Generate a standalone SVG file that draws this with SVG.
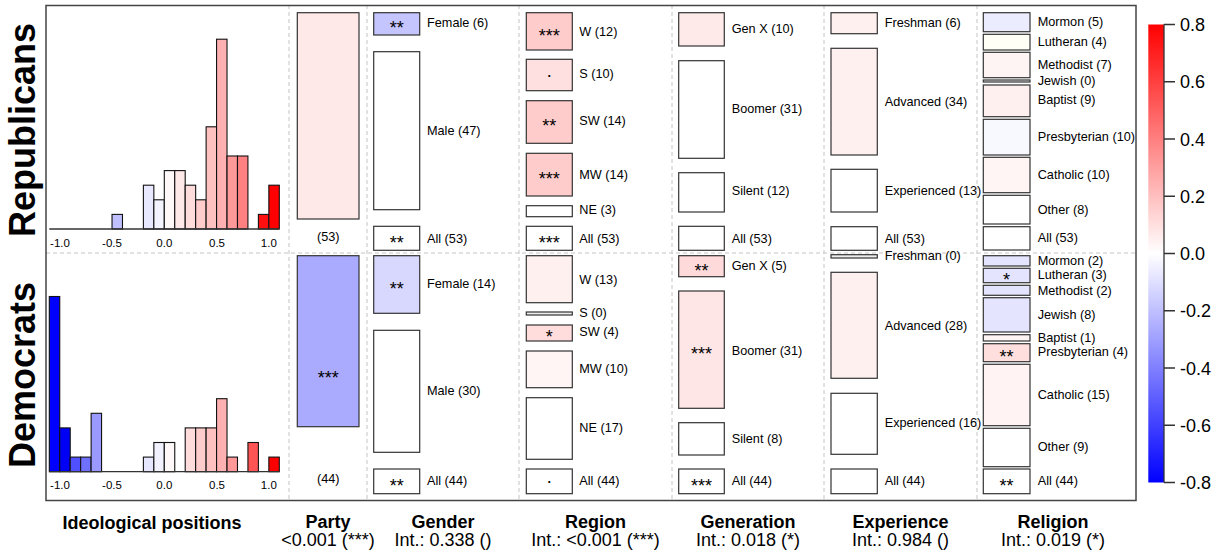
<svg xmlns="http://www.w3.org/2000/svg" width="1231" height="557" viewBox="0 0 1231 557">
<defs>
<linearGradient id="cbar" x1="0" y1="0" x2="0" y2="1">
<stop offset="0" stop-color="#ff0000"/>
<stop offset="0.5" stop-color="#ffffff"/>
<stop offset="1" stop-color="#0000ff"/>
</linearGradient>
<style>
text{font-family:"Liberation Sans",Arial,sans-serif;fill:#000}
.bar{stroke:#111;stroke-width:1.1}
.box{stroke:#333;stroke-width:1.2}
.lbl{font-size:12.7px}
.st{font-size:18px;text-anchor:middle}
.tick{font-size:11.5px;text-anchor:middle}
.dash{stroke:#c4c4c4;stroke-width:1;stroke-dasharray:4,3;fill:none}
.head{font-size:18px;font-weight:bold;text-anchor:middle}
.sub{font-size:18px;text-anchor:middle}
.side{font-size:36px;font-weight:bold;text-anchor:middle}
.cb{font-size:18px}
.ax{stroke:#333;stroke-width:1.3;fill:none}
</style>
</defs>
<rect width="1231" height="557" fill="#fff"/>

<g id="grid">
<line class="dash" x1="46" y1="253" x2="1136" y2="253"/>
<line class="dash" x1="289" y1="5" x2="289" y2="500"/>
<line class="dash" x1="367" y1="5" x2="367" y2="500"/>
<line class="dash" x1="519" y1="5" x2="519" y2="500"/>
<line class="dash" x1="672" y1="5" x2="672" y2="500"/>
<line class="dash" x1="824" y1="5" x2="824" y2="500"/>
<line class="dash" x1="977" y1="5" x2="977" y2="500"/>
</g>
<g id="connectors"/>

<g id="side-labels">
<text class="side" transform="translate(35,130) rotate(-90)">Republicans</text>
<text class="side" transform="translate(35,375) rotate(-90)">Democrats</text>
</g>

<g id="hist-rep">
<rect class="bar" x="112.03" y="214.4" width="10.45" height="14.6" fill="#c0c0ff"/>
<rect class="bar" x="143.39" y="185.2" width="10.45" height="43.8" fill="#e8e8ff"/>
<rect class="bar" x="153.85" y="199.8" width="10.45" height="29.2" fill="#f4f4ff"/>
<rect class="bar" x="164.30" y="170.6" width="10.45" height="58.4" fill="#fff8f8"/>
<rect class="bar" x="174.75" y="170.6" width="10.45" height="58.4" fill="#ffe8e8"/>
<rect class="bar" x="185.21" y="185.2" width="10.45" height="43.8" fill="#ffdcdc"/>
<rect class="bar" x="195.66" y="199.8" width="10.45" height="29.2" fill="#ffcccc"/>
<rect class="bar" x="206.12" y="126.8" width="10.45" height="102.2" fill="#ffc0c0"/>
<rect class="bar" x="216.57" y="39.2" width="10.45" height="189.8" fill="#ffb0b0"/>
<rect class="bar" x="227.03" y="156" width="10.45" height="73" fill="#ff9999"/>
<rect class="bar" x="237.48" y="156" width="10.45" height="73" fill="#ff8080"/>
<rect class="bar" x="258.39" y="214.4" width="10.45" height="14.6" fill="#ff1010"/>
<rect class="bar" x="268.85" y="185.2" width="10.45" height="43.8" fill="#ff0000"/>
<line class="ax" x1="49.3" y1="229" x2="279.3" y2="229"/>
<text class="tick" x="60" y="247.3">-1.0</text>
<text class="tick" x="112" y="247.3">-0.5</text>
<text class="tick" x="164.3" y="247.3">0.0</text>
<text class="tick" x="217" y="247.3">0.5</text>
<text class="tick" x="268.8" y="247.3">1.0</text>
</g>

<g id="hist-dem">
<rect class="bar" x="49.30" y="296.5" width="10.45" height="175.2" fill="#0000ff"/>
<rect class="bar" x="59.75" y="427.9" width="10.45" height="43.8" fill="#0000f4"/>
<rect class="bar" x="70.21" y="457.1" width="10.45" height="14.6" fill="#5050ff"/>
<rect class="bar" x="80.66" y="457.1" width="10.45" height="14.6" fill="#7070ff"/>
<rect class="bar" x="91.12" y="413.3" width="10.45" height="58.4" fill="#9999ff"/>
<rect class="bar" x="143.39" y="457.1" width="10.45" height="14.6" fill="#e6e6ff"/>
<rect class="bar" x="153.85" y="442.5" width="10.45" height="29.2" fill="#f2f2ff"/>
<rect class="bar" x="164.30" y="442.5" width="10.45" height="29.2" fill="#fff8f8"/>
<rect class="bar" x="185.21" y="427.9" width="10.45" height="43.8" fill="#ffdcdc"/>
<rect class="bar" x="195.66" y="427.9" width="10.45" height="43.8" fill="#ffcccc"/>
<rect class="bar" x="206.12" y="427.9" width="10.45" height="43.8" fill="#ffc0c0"/>
<rect class="bar" x="216.57" y="398.7" width="10.45" height="73" fill="#ffb0b0"/>
<rect class="bar" x="227.03" y="457.1" width="10.45" height="14.6" fill="#ff9999"/>
<rect class="bar" x="247.94" y="442.5" width="10.45" height="29.2" fill="#ff5555"/>
<rect class="bar" x="268.85" y="457.1" width="10.45" height="14.6" fill="#ff0000"/>
<line class="ax" x1="49.3" y1="471.7" x2="279.3" y2="471.7"/>
<text class="tick" x="60" y="489.3">-1.0</text>
<text class="tick" x="112" y="489.3">-0.5</text>
<text class="tick" x="164.3" y="489.3">0.0</text>
<text class="tick" x="217" y="489.3">0.5</text>
<text class="tick" x="268.8" y="489.3">1.0</text>
</g>

<g id="party-rep">
<rect class="box" x="297.3" y="12.7" width="61.7" height="206.3" fill="#ffe8e8"/>
<text class="lbl" x="328.2" y="241.2" text-anchor="middle">(53)</text>
</g>
<g id="party-dem">
<rect class="box" x="297.3" y="255.7" width="61.7" height="171" fill="#aaaaff"/>
<text class="st" x="328.2" y="384.3">***</text>
<text class="lbl" x="328.2" y="482.5" text-anchor="middle">(44)</text>
</g>

<g id="gender-rep-female"><rect class="box" x="373.7" y="12.7" width="46" height="22.3" fill="#c4c4ff"/><text class="st" x="396.7" y="34.1">**</text><text class="lbl" x="427" y="27.2">Female (6)</text></g>
<g id="gender-rep-male"><rect class="box" x="373.7" y="51.7" width="46" height="158" fill="#fff"/><text class="lbl" x="427" y="134.5">Male (47)</text></g>
<g id="gender-rep-all"><rect class="box" x="373.7" y="226.3" width="46" height="24" fill="#fff"/><text class="st" x="396.7" y="248.6">**</text><text class="lbl" x="427" y="242.8">All (53)</text></g>
<g id="gender-dem-female"><rect class="box" x="373.7" y="255.7" width="46" height="57.6" fill="#d8d8ff"/><text class="st" x="396.7" y="294.8">**</text><text class="lbl" x="427" y="288.2">Female (14)</text></g>
<g id="gender-dem-male"><rect class="box" x="373.7" y="330.3" width="46" height="122" fill="#fff"/><text class="lbl" x="427" y="395.2">Male (30)</text></g>
<g id="gender-dem-all"><rect class="box" x="373.7" y="469" width="46" height="24.7" fill="#fff"/><text class="st" x="396.7" y="491.6">**</text><text class="lbl" x="427" y="485">All (44)</text></g>

<g id="region-rep-w"><rect class="box" x="526.3" y="12.7" width="46" height="37.3" fill="#ffcccc"/><text class="st" x="549.3" y="41.6">***</text><text class="lbl" x="579.3" y="35.5">W (12)</text></g>
<g id="region-rep-s"><rect class="box" x="526.3" y="59.3" width="46" height="31.4" fill="#ffe0e0"/><text class="st" x="549.3" y="77">.</text><text class="lbl" x="579.3" y="77.8">S (10)</text></g>
<g id="region-rep-sw"><rect class="box" x="526.3" y="100.7" width="46" height="42.6" fill="#ffcccc"/><text class="st" x="549.3" y="132.3">**</text><text class="lbl" x="579.3" y="125.2">SW (14)</text></g>
<g id="region-rep-mw"><rect class="box" x="526.3" y="153.3" width="46" height="42.7" fill="#ffcccc"/><text class="st" x="549.3" y="185">***</text><text class="lbl" x="579.3" y="178.5">MW (14)</text></g>
<g id="region-rep-ne"><rect class="box" x="526.3" y="205.7" width="46" height="11" fill="#fff"/><text class="lbl" x="579.3" y="213.8">NE (3)</text></g>
<g id="region-rep-all"><rect class="box" x="526.3" y="226.3" width="46" height="24" fill="#fff"/><text class="st" x="549.3" y="248.6">***</text><text class="lbl" x="579.3" y="242.8">All (53)</text></g>
<g id="region-dem-w"><rect class="box" x="526.3" y="255.7" width="46" height="47" fill="#fff0f0"/><text class="lbl" x="579.3" y="283.5">W (13)</text></g>
<g id="region-dem-s"><rect class="box" x="526.3" y="312" width="46" height="3" fill="#eee"/><text class="lbl" x="579.3" y="316.8">S (0)</text></g>
<g id="region-dem-sw"><rect class="box" x="526.3" y="325" width="46" height="16" fill="#ffdddd"/><text class="st" x="549.3" y="343.3">*</text><text class="lbl" x="579.3" y="335.8">SW (4)</text></g>
<g id="region-dem-mw"><rect class="box" x="526.3" y="351" width="46" height="36.7" fill="#fff5f5"/><text class="lbl" x="579.3" y="372.8">MW (10)</text></g>
<g id="region-dem-ne"><rect class="box" x="526.3" y="397.7" width="46" height="61.6" fill="#fff"/><text class="lbl" x="579.3" y="432.2">NE (17)</text></g>
<g id="region-dem-all"><rect class="box" x="526.3" y="469" width="46" height="24.7" fill="#fff"/><text class="st" x="549.3" y="483.3">.</text><text class="lbl" x="579.3" y="485">All (44)</text></g>

<g id="gen-rep-genx"><rect class="box" x="678.7" y="12.7" width="45.6" height="33.3" fill="#ffeaea"/><text class="lbl" x="731.7" y="32.8">Gen X (10)</text></g>
<g id="gen-rep-boomer"><rect class="box" x="678.7" y="60.7" width="45.6" height="97.6" fill="#fff"/><text class="lbl" x="731.7" y="112.5">Boomer (31)</text></g>
<g id="gen-rep-silent"><rect class="box" x="678.7" y="172.7" width="45.6" height="39.3" fill="#fff"/><text class="lbl" x="731.7" y="195.2">Silent (12)</text></g>
<g id="gen-rep-all"><rect class="box" x="678.7" y="226.3" width="45.6" height="24" fill="#fff"/><text class="lbl" x="731.7" y="242.8">All (53)</text></g>
<g id="gen-dem-genx"><rect class="box" x="678.7" y="255.7" width="45.6" height="21" fill="#ffdada"/><text class="st" x="701.5" y="276.5">**</text><text class="lbl" x="731.7" y="270.2">Gen X (5)</text></g>
<g id="gen-dem-boomer"><rect class="box" x="678.7" y="291" width="45.6" height="117.3" fill="#ffe6e6"/><text class="st" x="701.5" y="360">***</text><text class="lbl" x="731.7" y="354.5">Boomer (31)</text></g>
<g id="gen-dem-silent"><rect class="box" x="678.7" y="422.7" width="45.6" height="32.3" fill="#fff"/><text class="lbl" x="731.7" y="442.8">Silent (8)</text></g>
<g id="gen-dem-all"><rect class="box" x="678.7" y="469" width="45.6" height="24.7" fill="#fff"/><text class="st" x="701.5" y="491.6">***</text><text class="lbl" x="731.7" y="485">All (44)</text></g>

<g id="exp-rep-freshman"><rect class="box" x="831" y="12.7" width="46.3" height="21" fill="#fff0f0"/><text class="lbl" x="884.7" y="26.8">Freshman (6)</text></g>
<g id="exp-rep-advanced"><rect class="box" x="831" y="48.3" width="46.3" height="106.7" fill="#fff0f0"/><text class="lbl" x="884.7" y="105.5">Advanced (34)</text></g>
<g id="exp-rep-experienced"><rect class="box" x="831" y="169.3" width="46.3" height="42.7" fill="#fff"/><text class="lbl" x="884.7" y="194.5">Experienced (13)</text></g>
<g id="exp-rep-all"><rect class="box" x="831" y="226.7" width="46.3" height="23.6" fill="#fff"/><text class="lbl" x="884.7" y="242.8">All (53)</text></g>
<g id="exp-dem-freshman"><rect class="box" x="831" y="254.7" width="46.3" height="3.3" fill="#eee"/><text class="lbl" x="884.7" y="260.2">Freshman (0)</text></g>
<g id="exp-dem-advanced"><rect class="box" x="831" y="272.3" width="46.3" height="106" fill="#fff0f0"/><text class="lbl" x="884.7" y="329.5">Advanced (28)</text></g>
<g id="exp-dem-experienced"><rect class="box" x="831" y="393.3" width="46.3" height="61" fill="#fff"/><text class="lbl" x="884.7" y="427.2">Experienced (16)</text></g>
<g id="exp-dem-all"><rect class="box" x="831" y="469" width="46.3" height="24.7" fill="#fff"/><text class="lbl" x="884.7" y="485">All (44)</text></g>

<g id="rel-rep-mormon"><rect class="box" x="983.3" y="12.7" width="46.7" height="19" fill="#ececff"/><text class="lbl" x="1037.7" y="26.2">Mormon (5)</text></g>
<g id="rel-rep-lutheran"><rect class="box" x="983.3" y="34.3" width="46.7" height="15.7" fill="#fffff6"/><text class="lbl" x="1037.7" y="46.2">Lutheran (4)</text></g>
<g id="rel-rep-methodist"><rect class="box" x="983.3" y="52.3" width="46.7" height="25.4" fill="#fff4f4"/><text class="lbl" x="1037.7" y="68.5">Methodist (7)</text></g>
<g id="rel-rep-jewish"><rect class="box" x="983.3" y="80" width="46.7" height="2" fill="#eee"/><text class="lbl" x="1037.7" y="85.2">Jewish (0)</text></g>
<g id="rel-rep-baptist"><rect class="box" x="983.3" y="85" width="46.7" height="31.7" fill="#fff0f0"/><text class="lbl" x="1037.7" y="103.5">Baptist (9)</text></g>
<g id="rel-rep-presbyterian"><rect class="box" x="983.3" y="119.3" width="46.7" height="35.7" fill="#f8f8ff"/><text class="lbl" x="1037.7" y="140.5">Presbyterian (10)</text></g>
<g id="rel-rep-catholic"><rect class="box" x="983.3" y="157.3" width="46.7" height="35.4" fill="#fff5f5"/><text class="lbl" x="1037.7" y="178.5">Catholic (10)</text></g>
<g id="rel-rep-other"><rect class="box" x="983.3" y="195.3" width="46.7" height="28.7" fill="#fff"/><text class="lbl" x="1037.7" y="213.5">Other (8)</text></g>
<g id="rel-rep-all"><rect class="box" x="983.3" y="226.7" width="46.7" height="23.3" fill="#fff"/><text class="lbl" x="1037.7" y="242.2">All (53)</text></g>
<g id="rel-dem-mormon"><rect class="box" x="983.3" y="255.7" width="46.7" height="10.3" fill="#e4e4ff"/><text class="lbl" x="1037.7" y="264.5">Mormon (2)</text></g>
<g id="rel-dem-lutheran"><rect class="box" x="983.3" y="268.3" width="46.7" height="14.4" fill="#e4e4ff"/><text class="st" x="1006.6" y="285.8">*</text><text class="lbl" x="1037.7" y="278.8">Lutheran (3)</text></g>
<g id="rel-dem-methodist"><rect class="box" x="983.3" y="285.3" width="46.7" height="10" fill="#e4e4ff"/><text class="lbl" x="1037.7" y="294.5">Methodist (2)</text></g>
<g id="rel-dem-jewish"><rect class="box" x="983.3" y="297.7" width="46.7" height="34.3" fill="#e4e4ff"/><text class="lbl" x="1037.7" y="318.5">Jewish (8)</text></g>
<g id="rel-dem-baptist"><rect class="box" x="983.3" y="334.7" width="46.7" height="6.3" fill="#fff4f4"/><text class="lbl" x="1037.7" y="341.8">Baptist (1)</text></g>
<g id="rel-dem-presbyterian"><rect class="box" x="983.3" y="343.7" width="46.7" height="18" fill="#ffdede"/><text class="st" x="1006.6" y="363">**</text><text class="lbl" x="1037.7" y="356.2">Presbyterian (4)</text></g>
<g id="rel-dem-catholic"><rect class="box" x="983.3" y="364.3" width="46.7" height="61.4" fill="#fff3f3"/><text class="lbl" x="1037.7" y="398.5">Catholic (15)</text></g>
<g id="rel-dem-other"><rect class="box" x="983.3" y="428.3" width="46.7" height="38.4" fill="#fff"/><text class="lbl" x="1037.7" y="451.2">Other (9)</text></g>
<g id="rel-dem-all"><rect class="box" x="983.3" y="469" width="46.7" height="24.7" fill="#fff"/><text class="st" x="1006.6" y="491.6">**</text><text class="lbl" x="1037.7" y="484.5">All (44)</text></g>

<rect id="frame" x="46" y="5.5" width="1090" height="495" fill="none" stroke="#444" stroke-width="1.5"/>

<g id="colorbar">
<rect x="1148.3" y="24.5" width="15.7" height="458" fill="url(#cbar)"/>
<path class="ax" d="M1164 24.5V482.5M1164 24.5H1175M1164 81.75H1175M1164 139H1175M1164 196.25H1175M1164 253.5H1175M1164 310.75H1175M1164 368H1175M1164 425.25H1175M1164 482.5H1175"/>
<text class="cb" x="1180" y="31">0.8</text>
<text class="cb" x="1180" y="88.25">0.6</text>
<text class="cb" x="1180" y="145.5">0.4</text>
<text class="cb" x="1180" y="202.75">0.2</text>
<text class="cb" x="1180" y="260">0.0</text>
<text class="cb" x="1180" y="317.25">-0.2</text>
<text class="cb" x="1180" y="374.5">-0.4</text>
<text class="cb" x="1180" y="431.75">-0.6</text>
<text class="cb" x="1180" y="489">-0.8</text>
</g>

<g id="bottom-labels">
<text class="head" x="152" y="528.5">Ideological positions</text>
<text class="head" x="328" y="528">Party</text>
<text class="sub" x="328" y="546">&lt;0.001 (***)</text>
<text class="head" x="443" y="528">Gender</text>
<text class="sub" x="443" y="546">Int.: 0.338 ()</text>
<text class="head" x="595.5" y="528">Region</text>
<text class="sub" x="595.5" y="546">Int.: &lt;0.001 (***)</text>
<text class="head" x="748" y="528">Generation</text>
<text class="sub" x="748" y="546">Int.: 0.018 (*)</text>
<text class="head" x="900.5" y="528">Experience</text>
<text class="sub" x="900.5" y="546">Int.: 0.984 ()</text>
<text class="head" x="1053" y="528">Religion</text>
<text class="sub" x="1053" y="546">Int.: 0.019 (*)</text>
</g>
</svg>
